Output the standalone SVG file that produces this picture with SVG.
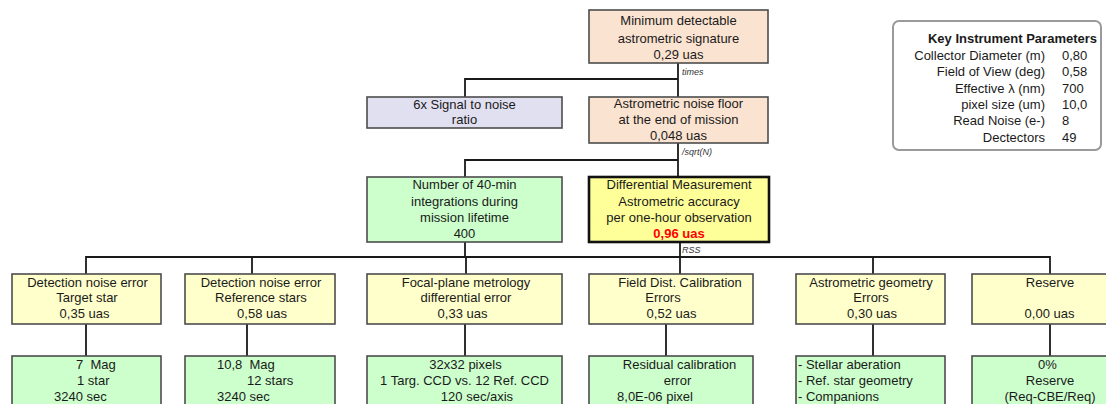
<svg xmlns="http://www.w3.org/2000/svg" width="1106" height="404" viewBox="0 0 1106 404">
<style>
text{font-family:"Liberation Sans",Arial,sans-serif;font-size:13px;fill:#1a1a1a}
.c{text-anchor:middle}
.e{text-anchor:end}
.lbl{font-size:9px;font-style:italic;fill:#333}
.b{stroke:#4d4d4d;stroke-width:1.6}
.peach{fill:#FBE3D1}
.lav{fill:#E1E0F1}
.grn{fill:#CCFFCC}
.ylw{fill:#FFFFCC}
.hi{fill:#FFFF99;stroke:#111;stroke-width:2.6}
.ln{fill:none;stroke:#1a1a1a;stroke-width:1.8}
</style>
<rect width="1106" height="404" fill="#ffffff"/>
<g id="connectors">
<path class="ln" d="M678,63 V97 M465,97 V79 H678"/>
<path class="ln" d="M678,143 V177 M465,177 V160 H678"/>
<path class="ln" d="M680,242 V274 M86,274 V257 H1050 V274 M252,257 V274 M466,257 V274 M873,257 V274 M465,242 V257"/>
<path class="ln" d="M86,324 V356 M247,324 V356 M465,324 V356 M666,324 V356 M873,324 V356 M1050,324 V356"/>
</g>
<g id="min-signature">
<rect class="b peach" x="589" y="10" width="179" height="53"/>
<text class="c" x="678.5" y="25">Minimum detectable</text>
<text class="c" x="678.5" y="43">astrometric signature</text>
<text class="c" x="678.5" y="59">0,29 uas</text>
</g>
<text class="lbl" x="682" y="75">times</text>
<g id="snr">
<rect class="b lav" x="367" y="97" width="195" height="31"/>
<text class="c" x="464.5" y="109">6x Signal to noise</text>
<text class="c" x="464.5" y="124">ratio</text>
</g>
<g id="noise-floor">
<rect class="b peach" x="589" y="97" width="179" height="46"/>
<text class="c" x="678.5" y="108">Astrometric noise floor</text>
<text class="c" x="678.5" y="124">at the end of mission</text>
<text class="c" x="678.5" y="140">0,048 uas</text>
</g>
<text class="lbl" x="682" y="155">/sqrt(N)</text>
<g id="integrations">
<rect class="b grn" x="367" y="177" width="195" height="65"/>
<text class="c" x="464.5" y="189">Number of 40-min</text>
<text class="c" x="464.5" y="206">integrations during</text>
<text class="c" x="464.5" y="222">mission lifetime</text>
<text class="c" x="464.5" y="238">400</text>
</g>
<g id="differential">
<rect class="hi" x="589" y="177" width="180" height="65"/>
<text class="c" x="679" y="189">Differential Measurement</text>
<text class="c" x="679" y="206">Astrometric accuracy</text>
<text class="c" x="679" y="222">per one-hour observation</text>
<text class="c" x="679" y="238" style="fill:#FF0000;font-weight:bold">0,96 uas</text>
</g>
<text class="lbl" x="682" y="253">RSS</text>
<g id="det-target">
<rect class="b ylw" x="12" y="274" width="149" height="50"/>
<text class="c" x="87.5" y="287">Detection noise error</text>
<text class="c" x="87" y="302">Target star</text>
<text class="c" x="84.5" y="318">0,35 uas</text>
</g>
<g id="det-ref">
<rect class="b ylw" x="185" y="274" width="150" height="50"/>
<text class="c" x="261" y="287">Detection noise error</text>
<text class="c" x="261" y="302">Reference stars</text>
<text class="c" x="262" y="318">0,58 uas</text>
</g>
<g id="focal-plane">
<rect class="b ylw" x="367" y="274" width="195" height="50"/>
<text class="c" x="466" y="287">Focal-plane metrology</text>
<text class="c" x="466" y="302">differential error</text>
<text class="c" x="462.5" y="318">0,33 uas</text>
</g>
<g id="field-dist">
<rect class="b ylw" x="589" y="274" width="164" height="50"/>
<text class="c" x="680" y="287">Field Dist. Calibration</text>
<text class="c" x="663" y="302">Errors</text>
<text class="c" x="671.5" y="318">0,52 uas</text>
</g>
<g id="astro-geom">
<rect class="b ylw" x="796" y="274" width="149" height="50"/>
<text class="c" x="871" y="287">Astrometric geometry</text>
<text class="c" x="871" y="302">Errors</text>
<text class="c" x="872" y="318">0,30 uas</text>
</g>
<g id="reserve">
<rect class="b ylw" x="972" y="274" width="150" height="50"/>
<text class="c" x="1050" y="287">Reserve</text>
<text class="c" x="1049.5" y="318">0,00 uas</text>
</g>
<g id="target-detail">
<rect class="b grn" x="12" y="356" width="149" height="60"/>
<text x="76" y="369" xml:space="preserve">7  Mag</text>
<text x="77" y="385">1 star</text>
<text x="54" y="401">3240 sec</text>
</g>
<g id="ref-detail">
<rect class="b grn" x="185" y="356" width="150" height="60"/>
<text x="217" y="369" xml:space="preserve">10,8  Mag</text>
<text x="247" y="385">12 stars</text>
<text x="217" y="401">3240 sec</text>
</g>
<g id="focal-detail">
<rect class="b grn" x="367" y="356" width="195" height="60"/>
<text class="c" x="465.5" y="369">32x32 pixels</text>
<text class="c" x="464.5" y="385">1 Targ. CCD vs. 12 Ref. CCD</text>
<text class="c" x="477" y="401">120 sec/axis</text>
</g>
<g id="field-detail">
<rect class="b grn" x="589" y="356" width="164" height="60"/>
<text class="c" x="679.5" y="369">Residual calibration</text>
<text class="c" x="677.5" y="385">error</text>
<text class="c" x="655" y="401">8,0E-06 pixel</text>
</g>
<g id="geom-detail">
<rect class="b grn" x="796" y="356" width="149" height="60"/>
<text x="798" y="369">- Stellar aberation</text>
<text x="798" y="385">- Ref. star geometry</text>
<text x="798" y="401">- Companions</text>
</g>
<g id="reserve-detail">
<rect class="b grn" x="972" y="356" width="150" height="60"/>
<text class="c" x="1047.5" y="369">0%</text>
<text class="c" x="1050" y="385">Reserve</text>
<text class="c" x="1050" y="401">(Req-CBE/Req)</text>
</g>
<g id="key-parameters">
<rect x="893" y="21" width="208" height="129" rx="6" fill="#ffffff" stroke="#9a9a9a" stroke-width="2"/>
<text class="c" x="1012.5" y="43" style="font-weight:bold">Key Instrument Parameters</text>
<text class="e" x="1045" y="59.5">Collector Diameter (m)</text>
<text x="1062" y="59.5">0,80</text>
<text class="e" x="1045" y="76">Field of View (deg)</text>
<text x="1062" y="76">0,58</text>
<text class="e" x="1045" y="92.5">Effective λ (nm)</text>
<text x="1062" y="92.5">700</text>
<text class="e" x="1045" y="109">pixel size (um)</text>
<text x="1062" y="109">10,0</text>
<text class="e" x="1045" y="125">Read Noise (e-)</text>
<text x="1062" y="125">8</text>
<text class="e" x="1045" y="141.5">Dectectors</text>
<text x="1062" y="141.5">49</text>
</g>
</svg>
